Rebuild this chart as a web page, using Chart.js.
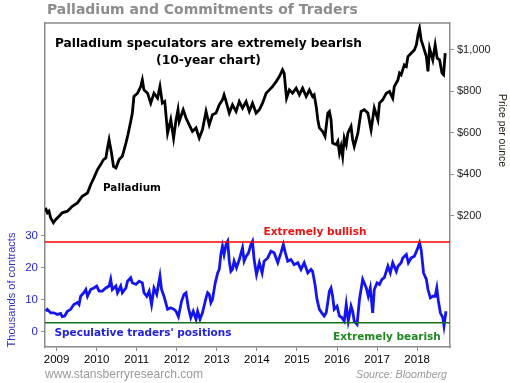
<!DOCTYPE html>
<html>
<head>
<meta charset="utf-8">
<script src="https://cdn.jsdelivr.net/npm/chart.js@4"></script>
<style>
html,body{margin:0;padding:0;background:#fff;}
#wrap{width:510px;height:383px;position:relative;}
</style>
</head>
<body>
<div id="wrap"><canvas id="c" width="510" height="383"></canvas></div>
<script>
// ---- data ----
const yearTicks = [2009,2010,2011,2012,2013,2014,2015,2016,2017,2018];
const priceTicks = [200,400,600,800,1000];
const positionTicks = [0,10,20,30];

const priceDates = [2008.72,2008.77,2008.81,2008.85,2008.92,2008.98,2009.06,2009.14,2009.27,2009.39,2009.52,2009.64,2009.77,2009.85,2009.93,2010.02,2010.10,2010.17,2010.23,2010.27,2010.31,2010.37,2010.42,2010.48,2010.56,2010.64,2010.73,2010.78,2010.85,2010.89,2010.93,2011.02,2011.10,2011.14,2011.18,2011.27,2011.35,2011.43,2011.52,2011.58,2011.64,2011.70,2011.77,2011.85,2011.92,2011.98,2012.03,2012.06,2012.16,2012.23,2012.31,2012.39,2012.48,2012.56,2012.64,2012.73,2012.81,2012.89,2012.98,2013.06,2013.14,2013.18,2013.23,2013.31,2013.39,2013.48,2013.56,2013.64,2013.73,2013.81,2013.89,2013.98,2014.06,2014.14,2014.23,2014.31,2014.39,2014.48,2014.56,2014.64,2014.68,2014.74,2014.81,2014.89,2014.98,2015.06,2015.14,2015.23,2015.31,2015.39,2015.43,2015.48,2015.52,2015.56,2015.64,2015.70,2015.77,2015.81,2015.85,2015.89,2015.98,2016.02,2016.06,2016.10,2016.14,2016.18,2016.23,2016.27,2016.35,2016.39,2016.43,2016.52,2016.60,2016.68,2016.77,2016.85,2016.93,2017.02,2017.06,2017.14,2017.23,2017.31,2017.39,2017.43,2017.52,2017.56,2017.60,2017.68,2017.73,2017.77,2017.85,2017.93,2017.98,2018.02,2018.06,2018.10,2018.14,2018.23,2018.27,2018.31,2018.39,2018.45,2018.50,2018.56,2018.62,2018.66,2018.70];
const priceValues = [237,213,221,189,165,181,197,213,221,245,261,293,309,349,382,422,446,470,478,526,566,502,437,430,470,486,550,590,654,695,775,791,823,855,807,791,743,791,767,823,743,751,598,663,574,660,711,654,711,671,638,606,623,574,614,703,638,687,695,735,759,783,751,695,735,703,751,719,751,703,743,695,711,743,791,807,823,847,871,904,888,767,807,791,815,783,815,775,807,775,783,727,663,623,606,582,695,703,663,550,542,558,502,534,486,574,542,598,630,566,534,598,703,711,695,614,719,663,743,759,791,799,767,823,855,888,880,928,920,968,984,1000,1024,1072,1104,1048,1024,968,896,1008,952,1024,960,952,888,880,984];

const positionDates = [2008.73,2008.77,2008.85,2008.93,2009.02,2009.10,2009.14,2009.20,2009.27,2009.35,2009.43,2009.52,2009.56,2009.60,2009.68,2009.73,2009.77,2009.85,2009.93,2010.00,2010.06,2010.14,2010.23,2010.31,2010.35,2010.39,2010.48,2010.52,2010.60,2010.64,2010.73,2010.77,2010.85,2010.89,2010.98,2011.06,2011.14,2011.18,2011.25,2011.31,2011.37,2011.43,2011.50,2011.58,2011.62,2011.68,2011.77,2011.85,2011.93,2011.98,2012.04,2012.12,2012.18,2012.23,2012.29,2012.35,2012.41,2012.48,2012.52,2012.58,2012.64,2012.73,2012.77,2012.81,2012.85,2012.89,2012.96,2013.02,2013.06,2013.10,2013.14,2013.18,2013.23,2013.27,2013.31,2013.35,2013.39,2013.43,2013.49,2013.56,2013.64,2013.68,2013.73,2013.79,2013.85,2013.89,2013.93,2013.99,2014.06,2014.13,2014.18,2014.27,2014.35,2014.43,2014.52,2014.60,2014.66,2014.71,2014.77,2014.85,2014.93,2015.02,2015.10,2015.18,2015.27,2015.35,2015.39,2015.45,2015.50,2015.56,2015.62,2015.68,2015.73,2015.81,2015.85,2015.89,2015.93,2016.00,2016.06,2016.12,2016.18,2016.23,2016.28,2016.35,2016.39,2016.43,2016.50,2016.56,2016.64,2016.73,2016.78,2016.83,2016.89,2016.93,2017.00,2017.06,2017.12,2017.18,2017.27,2017.33,2017.39,2017.48,2017.52,2017.60,2017.64,2017.73,2017.78,2017.85,2017.93,2018.00,2018.06,2018.10,2018.16,2018.23,2018.27,2018.33,2018.39,2018.45,2018.49,2018.53,2018.58,2018.64,2018.67,2018.72];
const positionValues = [6.3,6.9,5.8,5.8,5.3,5.6,4.6,4.8,6.3,6.9,8.4,9.0,8.4,11.0,12.1,13.1,11.0,13.1,13.6,14.2,12.6,12.6,13.6,14.2,16.3,13.1,14.2,12.1,14.2,12.1,13.6,15.7,16.8,15.2,14.7,15.7,15.2,12.1,11.0,12.6,8.4,13.6,11.6,17.3,13.1,11.0,6.9,7.4,6.9,6.3,4.6,9.5,11.6,12.1,7.4,4.3,6.3,3.8,6.3,3.8,5.8,10.5,12.1,11.6,9.0,10.0,15.2,18.3,19.4,24.1,26.7,24.1,27.2,28.2,22.0,18.8,19.4,22.0,19.9,22.5,26.2,22.0,23.5,24.6,27.2,28.2,22.5,17.8,21.5,18.3,22.0,23.0,25.1,24.6,21.5,24.6,27.2,24.6,22.0,22.5,20.9,21.5,19.4,21.5,18.3,19.4,18.8,14.7,10.0,6.9,5.8,4.8,5.8,12.6,13.6,11.0,6.9,7.9,4.8,4.3,3.2,8.4,3.2,7.9,6.3,3.2,2.2,10.0,16.3,13.6,11.0,13.6,5.8,13.1,15.2,14.7,16.3,16.8,20.4,18.3,21.5,18.8,20.4,21.5,23.0,24.1,21.5,23.0,23.5,25.6,27.7,25.6,18.3,16.3,13.1,10.5,11.0,11.0,13.6,9.5,5.8,4.3,1.7,6.3];

const bullishLevel = 28.0;
const bearishLevel = 2.7;
const xStart = 2008.71, xEnd = 2018.82;

// ---- chart ----
const zip = (xs, ys) => xs.map((x, i) => ({x, y: ys[i]}));
const GRAY = '#8a8a8a';

function fitFont(ctx, text, style, family, targetWidth) {
  ctx.font = style + ' 20px ' + family;
  const w = ctx.measureText(text).width;
  const size = 20 * targetWidth / w;
  return style + ' ' + size.toFixed(2) + 'px ' + family;
}
function label(ctx, text, opts) {
  ctx.save();
  ctx.font = fitFont(ctx, text, opts.style || '', opts.family, opts.width);
  ctx.fillStyle = opts.color;
  ctx.textBaseline = 'middle';
  ctx.textAlign = opts.align || 'left';
  ctx.translate(opts.x, opts.y);
  if (opts.rot) ctx.rotate(opts.rot);
  ctx.fillText(text, 0, 0);
  ctx.restore();
}

const textPlugin = {
  id: 'texts',
  afterDraw(chart) {
    const ctx = chart.ctx;
    const a = chart.chartArea;
    ctx.save();
    ctx.strokeStyle = GRAY; ctx.lineWidth = 1.5;
    ctx.beginPath(); ctx.moveTo(a.left, a.top); ctx.lineTo(a.right, a.top); ctx.stroke();
    ctx.restore();
    const V = 'DejaVu Sans', A = 'Liberation Sans';
    label(ctx, 'Palladium and Commitments of Traders', {x:47, y:10.5, width:311, family:V, style:'bold', color:'#8c8c8c'});
    label(ctx, 'Palladium speculators are extremely bearish', {x:208.5, y:44, width:307, family:V, style:'bold', color:'#000', align:'center'});
    label(ctx, '(10-year chart)', {x:208.5, y:61, width:105, family:V, style:'bold', color:'#000', align:'center'});
    label(ctx, 'Palladium', {x:103, y:188, width:58, family:V, style:'bold', color:'#000'});
    label(ctx, 'Extremely bullish', {x:263.5, y:232, width:103, family:V, style:'bold', color:'#ee1111'});
    label(ctx, 'Extremely bearish', {x:333, y:337.5, width:108, family:V, style:'bold', color:'#228822'});
    label(ctx, "Speculative traders' positions", {x:54.5, y:333, width:177, family:V, style:'bold', color:'#2222dd'});
    label(ctx, 'Thousands of contracts', {x:11.5, y:290, width:115, family:A, color:'#3333cc', align:'center', rot:-Math.PI/2});
    label(ctx, 'Price per ounce', {x:502, y:130.5, width:73, family:A, color:'#221a0a', align:'center', rot:Math.PI/2});
    label(ctx, 'www.stansberryresearch.com', {x:45, y:375, width:158, family:A, color:'#999999'});
    label(ctx, 'Source: Bloomberg', {x:447, y:375, width:91, family:A, style:'italic', color:'#999999', align:'right'});
  }
};

new Chart(document.getElementById('c'), {
  type: 'line',
  data: {
    datasets: [
      {label:'Bullish', data: zip([xStart, xEnd], [bullishLevel, bullishLevel]), yAxisID:'yPos', borderColor:'#ff0000', borderWidth:1.5, pointRadius:0},
      {label:'Bearish', data: zip([xStart, xEnd], [bearishLevel, bearishLevel]), yAxisID:'yPos', borderColor:'#1a6e1a', borderWidth:1.5, pointRadius:0},
      {label:'Palladium', data: zip(priceDates, priceValues), yAxisID:'yPrice', borderColor:'#000000', borderWidth:2.8, pointRadius:0, tension:0},
      {label:'Positions', data: zip(positionDates, positionValues), yAxisID:'yPos', borderColor:'#1414f0', borderWidth:2.8, pointRadius:0, tension:0}
    ]
  },
  options: {
    responsive: false,
    animation: false,
    events: [],
    layout: {padding: {top:23, right:0, bottom:18, left:0}},
    plugins: {legend:{display:false}, tooltip:{enabled:false}, title:{display:false}},
    scales: {
      x: {
        type:'linear', min:xStart, max:xEnd,
        afterBuildTicks: s => { s.ticks = yearTicks.map(v => ({value:v})); },
        afterFit: s => { s.height = 18; },
        grid: {drawOnChartArea:false, drawTicks:true, tickLength:4, color:GRAY, lineWidth:1},
        border: {color:GRAY, width:1.5},
        ticks: {color:'#000', font:{family:'Liberation Sans', size:11.5}, padding:2, maxRotation:0, autoSkip:false, callback: v => String(v)}
      },
      yPrice: {
        type:'linear', position:'right', min:-435, max:1130,
        afterBuildTicks: s => { s.ticks = priceTicks.map(v => ({value:v})); },
        afterFit: s => { s.width = 60; },
        grid: {drawOnChartArea:false, drawTicks:true, tickLength:4, color:GRAY},
        border: {color:GRAY, width:1.5},
        ticks: {color:'#222', font:{family:'Liberation Sans', size:11}, padding:3, callback: v => '$' + v.toLocaleString('en-US')}
      },
      yPos: {
        type:'linear', position:'left', min:-4.9, max:96.6,
        afterBuildTicks: s => { s.ticks = positionTicks.map(v => ({value:v})); },
        afterFit: s => { s.width = 45; },
        grid: {drawOnChartArea:false, drawTicks:true, tickLength:4, color:GRAY},
        border: {color:GRAY, width:1.5},
        ticks: {color:'#2222dd', font:{family:'Liberation Sans', size:11.5}, padding:3, callback: v => String(v)}
      }
    }
  },
  plugins: [textPlugin]
});
</script>
</body>
</html>
